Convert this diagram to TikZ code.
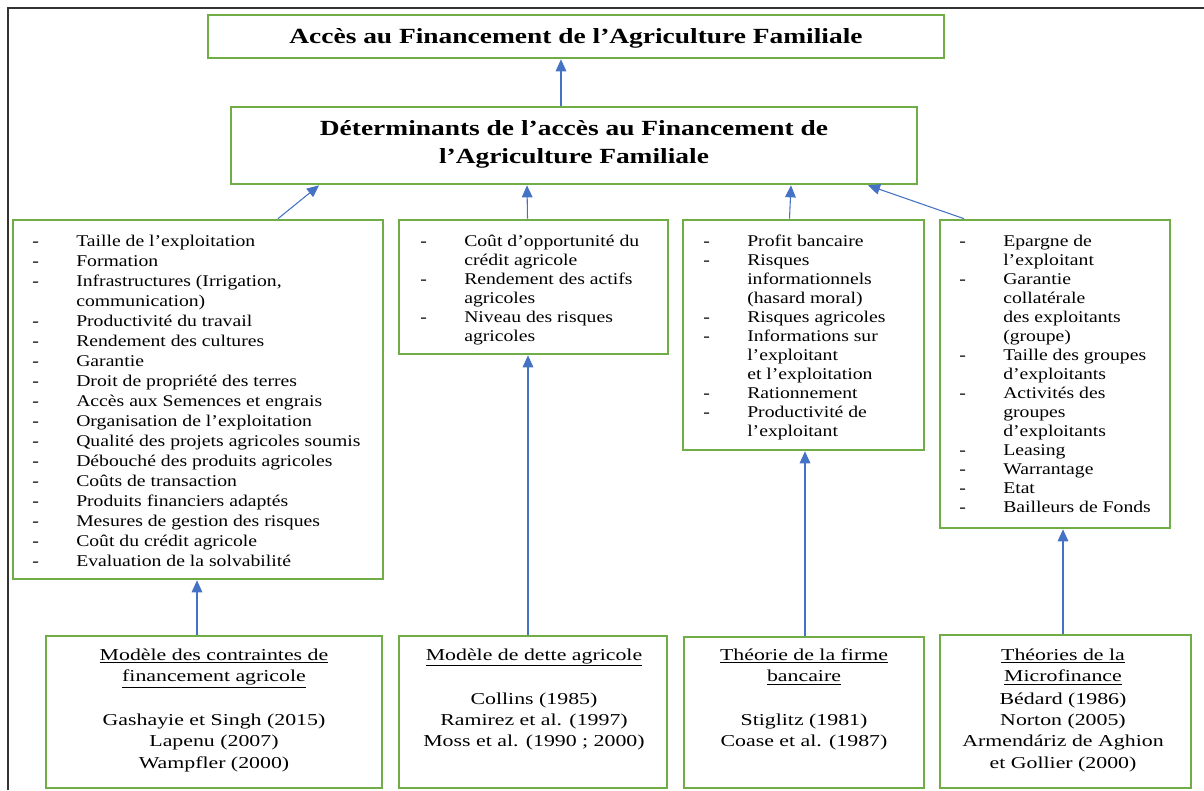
\documentclass[tikz,border=0pt]{standalone}
\usepackage{fontspec}
\setmainfont{Liberation Serif}
\newfontfamily\lfont{Liberation Serif}[FakeStretch=1.2]
\newfontfamily\rfont{Liberation Serif}[FakeStretch=1.31]
\newfontfamily\tfont{Liberation Serif}[FakeStretch=1.27]
\usetikzlibrary{arrows.meta,calc,fit}
\definecolor{grn}{RGB}{112,173,71}
\definecolor{blu}{RGB}{68,114,196}
\begin{document}
\begin{tikzpicture}[x=0.75pt,y=-0.75pt,
  gbox/.style={draw=grn,line width=2pt,inner sep=0pt},
  arr/.style={draw=blu,line width=0.8pt,-{Triangle[length=9pt,width=8pt]}},
  ctxt/.style={inner sep=0pt,anchor=base},
  lst/.style={inner sep=0pt,anchor=base west,font=\lfont\fontsize{12.3}{14.3}\selectfont},
  lstw/.style={inner sep=0pt,anchor=base west,font=\lfont\fontsize{12.3}{15}\selectfont},
  ttl/.style={inner sep=0pt,anchor=base,font=\tfont\bfseries\fontsize{16.2}{21}\selectfont},
  bhead/.style={inner sep=0pt,anchor=base,font=\rfont\fontsize{12.5}{16.4}\selectfont},
  bref/.style={inner sep=0pt,anchor=base,font=\rfont\fontsize{12.5}{16.1}\selectfont}]
\useasboundingbox (0,0) rectangle (1204,790);
\fill[white] (0,0) rectangle (1204,790);
\draw[line width=1.1pt,black!80] (8,790) -- (8,8) -- (1204,8);

% top boxes
\node[gbox,fit={(208,15)(944,58)}] (a) {};
\node[ttl] (at) at (576,43) {Accès au Financement de l’Agriculture Familiale};
\node[gbox,fit={(231,107)(917,184)}] (b) {};
\node[ttl] (bt) at (574,135) {\begin{tabular}[t]{@{}c@{}}Déterminants de l’accès au Financement de\\ l’Agriculture Familiale\end{tabular}};

% middle boxes
\node[gbox,fit={(13,220)(383,579)}] (c1) {};
\node[gbox,fit={(399,220)(668,354)}] (c2) {};
\node[gbox,fit={(683,220)(924,450)}] (c3) {};
\node[gbox,fit={(940,220)(1170,528)}] (c4) {};

\node[lstw] (c1t) at (32,246) {\begin{tabular}[t]{@{}p{33pt}@{}l@{}}
- & Taille de l’exploitation\\
- & Formation\\
- & Infrastructures (Irrigation,\\
  & communication)\\
- & Productivité du travail\\
- & Rendement des cultures\\
- & Garantie\\
- & Droit de propriété des terres\\
- & Accès aux Semences et engrais\\
- & Organisation de l’exploitation\\
- & Qualité des projets agricoles soumis\\
- & Débouché des produits agricoles\\
- & Coûts de transaction\\
- & Produits financiers adaptés\\
- & Mesures de gestion des risques\\
- & Coût du crédit agricole\\
- & Evaluation de la solvabilité
\end{tabular}};

\node[lst] (c2t) at (420,246) {\begin{tabular}[t]{@{}p{33pt}@{}l@{}}
- & Coût d’opportunité du\\
  & crédit agricole\\
- & Rendement des actifs\\
  & agricoles\\
- & Niveau des risques\\
  & agricoles
\end{tabular}};

\node[lst] (c3t) at (703,246) {\begin{tabular}[t]{@{}p{33pt}@{}l@{}}
- & Profit bancaire\\
- & Risques\\
  & informationnels\\
  & (hasard moral)\\
- & Risques agricoles\\
- & Informations sur\\
  & l’exploitant\\
  & et l’exploitation\\
- & Rationnement\\
- & Productivité de\\
  & l’exploitant
\end{tabular}};

\node[lst] (c4t) at (959,246) {\begin{tabular}[t]{@{}p{33pt}@{}l@{}}
- & Epargne de\\
  & l’exploitant\\
- & Garantie\\
  & collatérale\\
  & des exploitants\\
  & (groupe)\\
- & Taille des groupes\\
  & d’exploitants\\
- & Activités des\\
  & groupes\\
  & d’exploitants\\
- & Leasing\\
- & Warrantage\\
- & Etat\\
- & Bailleurs de Fonds
\end{tabular}};

% bottom boxes
\node[gbox,fit={(46,636)(382,788)}] (d1) {};
\node[gbox,fit={(399,636)(667,788)}] (d2) {};
\node[gbox,fit={(684,637)(924,788)}] (d3) {};
\node[gbox,fit={(940,635)(1191,788)}] (d4) {};

\node[bhead] (d1h) at (214,660) {\begin{tabular}[t]{@{}c@{}}\underline{Modèle des contraintes de}\\ \underline{financement agricole}\end{tabular}};
\node[bref] (d1r) at (214,725.5) {\begin{tabular}[t]{@{}c@{}}Gashayie et Singh (2015)\\ Lapenu (2007)\\ Wampfler (2000)\end{tabular}};

\node[bhead] (d2h) at (534,660) {\underline{Modèle de dette agricole}};
\node[bref] (d2r) at (534,704) {\begin{tabular}[t]{@{}c@{}}Collins (1985)\\ Ramirez et al. (1997)\\ Moss et al. (1990 ; 2000)\end{tabular}};

\node[bhead] (d3h) at (804,660) {\begin{tabular}[t]{@{}c@{}}\underline{Théorie de la firme}\\ \underline{bancaire}\end{tabular}};
\node[bref] (d3r) at (804,725.5) {\begin{tabular}[t]{@{}c@{}}Stiglitz (1981)\\ Coase et al. (1987)\end{tabular}};

\node[bhead] (d4h) at (1063,660) {\begin{tabular}[t]{@{}c@{}}\underline{Théories de la}\\ \underline{Microfinance}\end{tabular}};
\node[bref] (d4r) at (1063,704) {\begin{tabular}[t]{@{}c@{}}Bédard (1986)\\ Norton (2005)\\ Armendáriz de Aghion\\ et Gollier (2000)\end{tabular}};

% connectors
\draw[arr] ($(b.north)+(-13,0)$) -- ($(a.south)+(-15,0)$);
\draw[arr] ($(c1.north)+(80,0)$) -- ($(b.south)+(-255,0)$);
\draw[arr] ($(c2.north)+(-6,0)$) -- ($(b.south)+(-47,0)$);
\draw[arr] ($(c3.north)+(-14,0)$) -- ($(b.south)+(217,0)$);
\draw[arr] ($(c4.north)+(-91,0)$) -- ($(b.south)+(294,0)$);
\draw[arr] ($(d1.north)+(-17,0)$) -- ($(c1.south)+(-1,0)$);
\draw[arr] ($(d2.north)+(-5,0)$) -- ($(c2.south)+(-5.5,0)$);
\draw[arr] ($(d3.north)+(1,0)$) -- ($(c3.south)+(1.5,0)$);
\draw[arr] ($(d4.north)+(-2.5,0)$) -- ($(c4.south)+(8,0)$);
\end{tikzpicture}
\end{document}
